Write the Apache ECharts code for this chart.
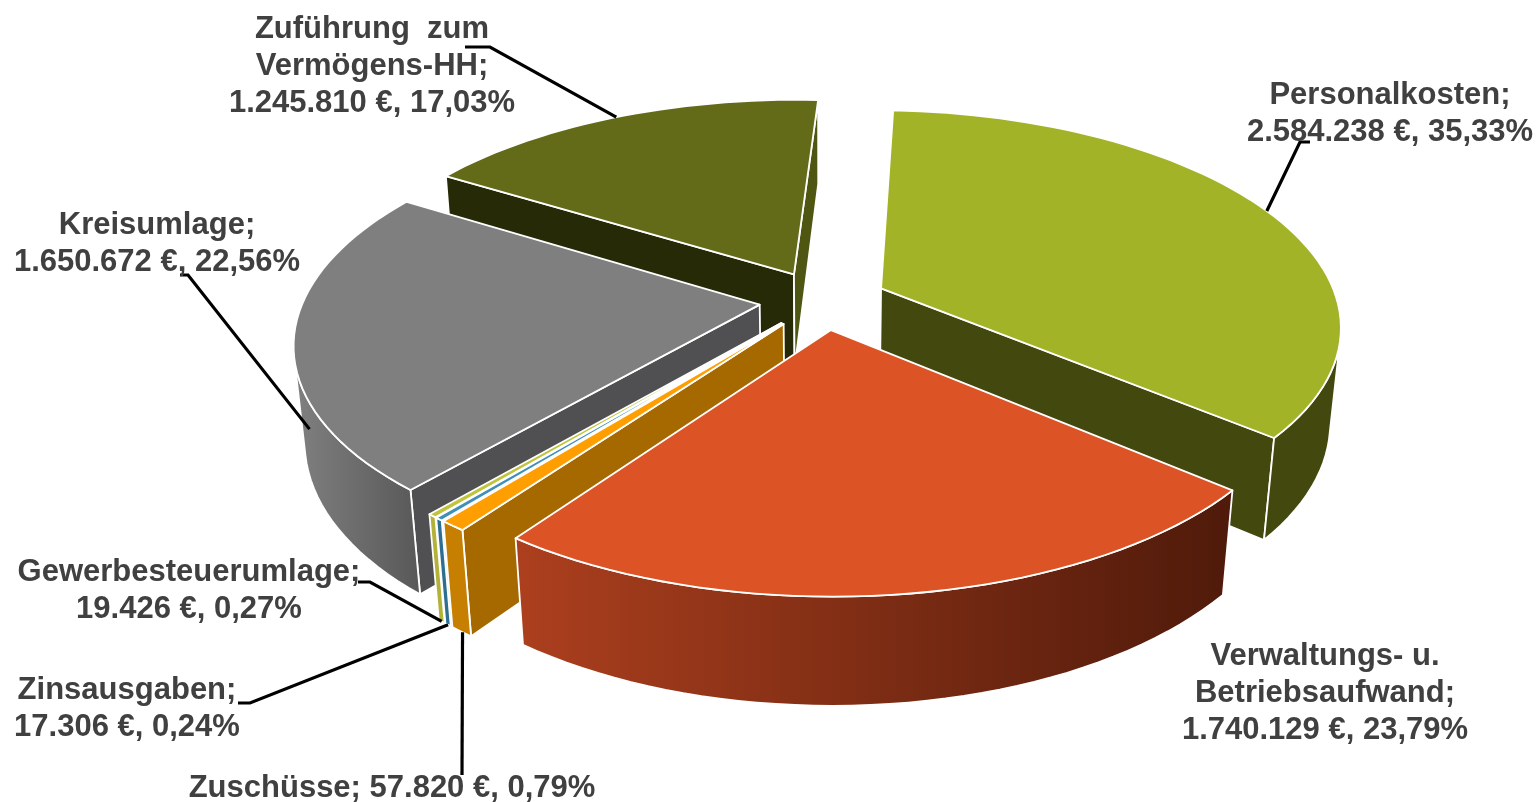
<!DOCTYPE html>
<html><head><meta charset="utf-8">
<style>html,body{margin:0;padding:0;background:#fff}#c{width:1538px;height:802px}</style>
<script src="https://cdn.jsdelivr.net/npm/echarts@6/dist/echarts.min.js"></script>
</head><body><div id="c"></div>
<script>
// ---- data ----
const categories = ['Personalkosten','Verwaltungs- u. Betriebsaufwand','Zuschüsse','Zinsausgaben','Gewerbesteuerumlage','Kreisumlage','Zuführung zum Vermögens-HH'];
const values = [2584238,1740129,57820,17306,19426,1650672,1245810];
const nameLines = [['Personalkosten;'],['Verwaltungs- u.','Betriebsaufwand;'],['Zuschüsse;'],['Zinsausgaben;'],['Gewerbesteuerumlage;'],['Kreisumlage;'],['Zuführung  zum','Vermögens-HH;']];
// ---- styles ----
const topColors = ['#A3B327','#DC5326','#FF9E00','#3F8FB8','#C0C43C','#7F7F7F','#636B19'];
const rimColors = [['#43480E','#43480E'],['#AC3F1E','#4F1A0A'],['#C67F00','#C67F00'],['#2E6F91','#2E6F91'],['#B2B23A','#B2B23A'],['#808080','#585858'],['#272A07','#272A07']];
const cutColors = [['#43480E','#43480E'],['#7A2C14','#7A2C14'],['#A66900','#A66900'],['#2E6F91','#2E6F91'],['#8F9230','#8F9230'],['#505052','#505052'],['#272A07','#4F5612']];
// ---- layout ----
const labelPos = [[1390,95],[1325,656],[392,788],[127,690],[189,572],[157,225],[372,29]];
const lineHeight = 37;
const leaderElbows = [[[1310,142],[1300,142]],null,[[462,775]],[[238,703],[250,703]],[[358,582],[370,582]],[[180,275],[188,275]],[[465,47],[490,47]]];
const leaderAnchors = [[.5,0],null,[.45,1],[.5,1],[.5,1],[.32,.33],[.5,0]];
const cam = {cx:823, cy:300, f:2440, d:5.35, t:27.6*Math.PI/180, h:.24, explode:.14, startDeg:3};
// ---- geometry ----
const total = values.reduce((a,b)=>a+b,0);
const sinT = Math.sin(cam.t), cosT = Math.cos(cam.t);
function project(u,v,z){
  const up = v*sinT + z*cosT, D = cam.d + v*cosT - z*sinT;
  return [cam.cx + cam.f*u/D, cam.cy - cam.f*up/D];
}
const camPos = [0,-cam.d*cosT,cam.d*sinT];
let acc = cam.startDeg*Math.PI/180;
const slices = values.map(v=>{
  const a0 = acc, a1 = acc + v/total*2*Math.PI; acc = a1;
  const mid=(a0+a1)/2;
  return {a0,a1,mid,ax:cam.explode*Math.sin(mid),ay:cam.explode*Math.cos(mid)};
});
const order = slices.map((s,i)=>i).sort((a,b)=>Math.cos(slices[b].mid)-Math.cos(slices[a].mid));
const rank = []; order.forEach((i,r)=>rank[i]=r);
function rimPoint(s,a,z){return project(s.ax+Math.sin(a),s.ay+Math.cos(a),z);}
function facing(nx,ny,px,py){return nx*(camPos[0]-px)+ny*(camPos[1]-py)>0;}
function fmt(n){return String(n).replace(/\B(?=(\d{3})+$)/g,'.');}
function pct(n){return (n/total*100).toFixed(2).replace('.',',')+'%';}

function renderSlice(params,api){
  const i=params.dataIndex, s=slices[i], base=rank[i]*10, kids=[];
  const c=p=>api.coord(p);
  const stroke={stroke:'#fff',lineWidth:1.8,lineJoin:'round'};
  const apexT=project(s.ax,s.ay,0), apexB=project(s.ax,s.ay,-cam.h);
  [[s.a0,-1,0],[s.a1,1,1]].forEach(([a,sg,k])=>{
    const nx=sg*Math.cos(a), ny=-sg*Math.sin(a);
    if(facing(nx,ny,s.ax,s.ay)){
      kids.push({type:'polygon',z2:base+1,shape:{points:[apexT,rimPoint(s,a,0),rimPoint(s,a,-cam.h),apexB].map(c)},
        style:Object.assign({fill:cutColors[i][k]},stroke)});
    }
  });
  const n=Math.max(4,Math.ceil((s.a1-s.a0)/(Math.PI/90)));
  const topPts=[],botPts=[];
  for(let k=0;k<n;k++){
    const a=s.a0+(s.a1-s.a0)*(k+.5)/n;
    if(facing(Math.sin(a),Math.cos(a),s.ax+Math.sin(a),s.ay+Math.cos(a))){
      const b0=s.a0+(s.a1-s.a0)*k/n, b1=s.a0+(s.a1-s.a0)*(k+1)/n;
      if(!topPts.length){topPts.push(rimPoint(s,b0,0));botPts.push(rimPoint(s,b0,-cam.h));}
      topPts.push(rimPoint(s,b1,0));botPts.push(rimPoint(s,b1,-cam.h));
    }
  }
  if(topPts.length){
    const pts=topPts.concat(botPts.reverse()).map(c);
    const xs=pts.map(p=>p[0]);
    const x0=Math.min.apply(null,xs),x1=Math.max.apply(null,xs);
    kids.push({type:'polygon',z2:base+2,shape:{points:pts},
      style:Object.assign({fill:new echarts.graphic.LinearGradient(x0,0,x1,0,[{offset:0,color:rimColors[i][0]},{offset:1,color:rimColors[i][1]}],true)},stroke)});
  }
  const top=[apexT];
  for(let k=0;k<=n;k++) top.push(rimPoint(s,s.a0+(s.a1-s.a0)*k/n,0));
  kids.push({type:'polygon',z2:base+3,shape:{points:top.map(c)},style:Object.assign({fill:topColors[i]},stroke)});
  return {type:'group',children:kids};
}
function renderLabel(params,api){
  const i=params.dataIndex, kids=[];
  const c=p=>api.coord(p);
  if(leaderElbows[i]){
    const s=slices[i],an=leaderAnchors[i];
    const end=rimPoint(s,s.a0+(s.a1-s.a0)*an[0],-an[1]*cam.h);
    kids.push({type:'polyline',z2:200,shape:{points:leaderElbows[i].concat([end]).map(c)},style:{stroke:'#000',lineWidth:3.2,fill:null}});
  }
  const lines=nameLines[i].slice();
  const vt=fmt(values[i])+' €, '+pct(values[i]);
  if(i===2) lines[0]=lines[0]+' '+vt; else lines.push(vt);
  lines.forEach((t,k)=>{
    const p=c([labelPos[i][0],labelPos[i][1]+k*lineHeight]);
    kids.push({type:'text',z2:210,x:p[0],y:p[1],style:{text:t,fill:'#404040',font:'bold 31px "Liberation Sans", Arial, sans-serif',textAlign:'center',textVerticalAlign:'middle'}});
  });
  return {type:'group',children:kids};
}
const chart=echarts.init(document.getElementById('c'),null,{renderer:'canvas'});
chart.setOption({
  animation:false,backgroundColor:'#fff',
  grid:{left:0,right:0,top:0,bottom:0},
  xAxis:{type:'value',min:0,max:1538,show:false},
  yAxis:{type:'value',min:0,max:802,inverse:true,show:false},
  series:[
    {type:'custom',name:'Ausgaben',coordinateSystem:'cartesian2d',clip:false,silent:true,renderItem:renderSlice,
     data:categories.map((n,i)=>({name:n,value:[0,0,values[i]]}))},
    {type:'custom',name:'Beschriftung',coordinateSystem:'cartesian2d',clip:false,silent:true,renderItem:renderLabel,z:5,
     data:categories.map((n,i)=>({name:n,value:[0,0,values[i]]}))}
  ]
});
</script></body></html>
